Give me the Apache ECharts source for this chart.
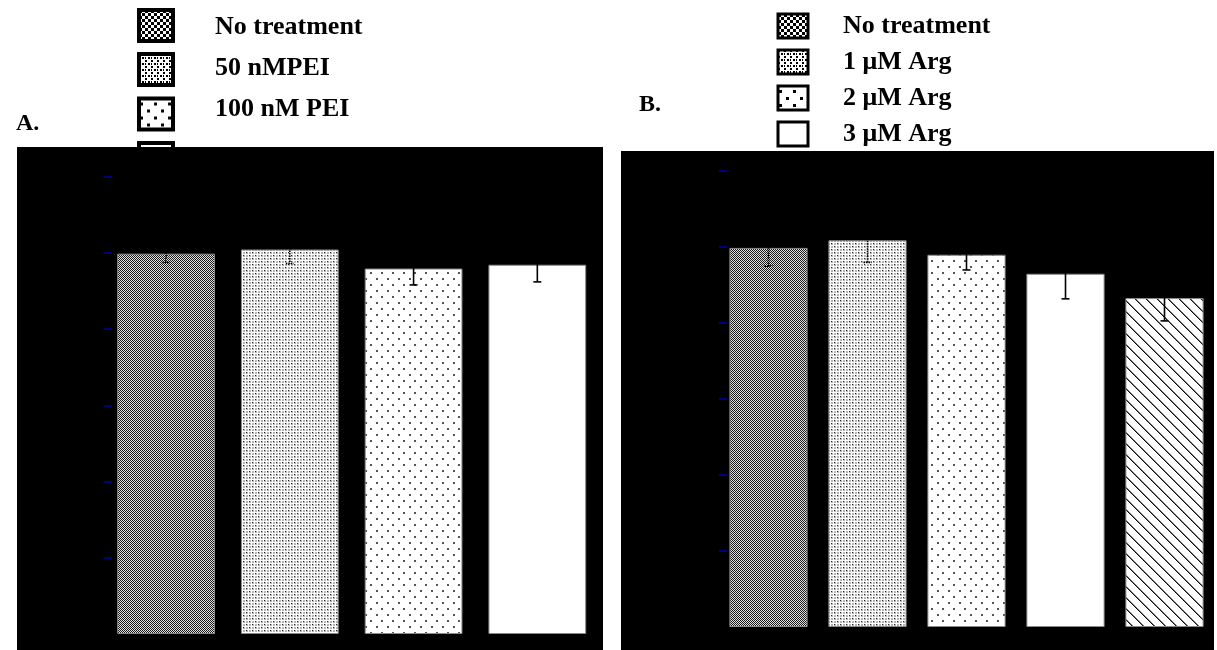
<!DOCTYPE html>
<html>
<head>
<meta charset="utf-8">
<script src="https://cdn.jsdelivr.net/npm/echarts@6/dist/echarts.min.js"></script>
<style>
  html, body { margin: 0; padding: 0; background: #fff; }
  #chart { width: 1217px; height: 650px; }
</style>
</head>
<body>
<div id="chart"></div>
<script>
// Panel A: PEI treatment
const groupsA = ['No treatment', '50 nMPEI', '100 nM PEI', '150 nM PEI'];
const meansA = [99.8, 100.9, 95.9, 96.9];
const errsA = [2.3, 3.7, 4.3, 4.5];

// Panel B: arginine treatment
const groupsB = ['No treatment', '1 μM Arg', '2 μM Arg', '3 μM Arg', '4 μM Arg'];
const meansB = [99.7, 101.7, 97.9, 92.9, 86.5];
const errsB = [4.8, 5.8, 4.0, 6.6, 6.0];

// y axis tick values (both panels)
const yTicks = [20, 40, 60, 80, 100, 120];

// ---- fill patterns --------------------------------------------------------
function tile(w, h, paint) {
  const c = document.createElement('canvas');
  c.width = w; c.height = h;
  const g = c.getContext('2d');
  g.fillStyle = '#fff';
  g.fillRect(0, 0, w, h);
  paint(g);
  return { image: c, repeat: 'repeat' };
}
function px(g, color, x, y, w, h) { g.fillStyle = color; g.fillRect(x, y, w || 1, h || 1); }

// bar fills (fine, 1px dither)
const barFill = {
  checker: tile(2, 2, g => { px(g, '#1a1a1a', 0, 0); px(g, '#1a1a1a', 1, 1); px(g, '#e0e0e0', 1, 0); px(g, '#e0e0e0', 0, 1); }),
  dense: tile(6, 6, g => {
    [[0, 0], [3, 0], [0, 3], [3, 3]].forEach(([x, y]) => px(g, '#b4b4b4', x, y, 2, 2));
    px(g, '#222', 0, 0); px(g, '#222', 3, 3);
  }),
  sparse: tile(11, 12, g => { px(g, '#555', 2, 2, 2, 2); px(g, '#555', 7, 8, 2, 2); }),
  plain: '#ffffff',
  hatch: tile(11, 11, g => {
    for (let i = 0; i < 11; i++) { px(g, '#111', i, i); px(g, '#777', (i + 1) % 11, i); }
  })
};

// legend swatch fills (coarse)
const keyFill = {
  checker: tile(6, 6, g => { px(g, '#000', 0, 0, 3, 3); px(g, '#000', 3, 3, 3, 3); }),
  dense: tile(6, 6, g => { px(g, '#000', 0, 0, 2, 2); px(g, '#000', 3, 3, 2, 2); px(g, '#000', 0, 3, 1, 2); }),
  sparse: tile(14, 14, g => { px(g, '#000', 1, 4, 3, 3); px(g, '#000', 8, 11, 3, 3); }),
  plain: '#ffffff',
  hatch: tile(8, 8, g => { for (let i = 0; i < 8; i++) px(g, '#000', i, i, 2, 1); })
};

const fillsA = ['checker', 'dense', 'sparse', 'plain'];
const fillsB = ['checker', 'dense', 'sparse', 'plain', 'hatch'];

const serifBold = { fontFamily: 'Liberation Serif', fontWeight: 'bold', color: '#000' };

// ---- series ---------------------------------------------------------------
function barSeries(groups, means, fills, idx, stack) {
  return groups.map((name, i) => ({
    type: 'bar',
    name: name,
    xAxisIndex: idx,
    yAxisIndex: idx,
    stack: stack,
    barWidth: '79%',
    z: 2,
    itemStyle: { color: barFill[fills[i]], borderColor: '#8a8a8a', borderWidth: 1 },
    data: groups.map((g, j) => (j === i ? means[i] : '-'))
  }));
}

function errorSeries(means, errs, idx) {
  return {
    type: 'custom',
    name: 'sem' + idx,
    xAxisIndex: idx,
    yAxisIndex: idx,
    z: 3,
    silent: true,
    data: means.map((m, i) => [i, m, errs[i]]),
    renderItem: function (params, api) {
      const i = api.value(0), m = api.value(1), e = api.value(2);
      const top = api.coord([i, m + e]);
      const bot = api.coord([i, m - e]);
      const cap = 4;
      const style = { stroke: '#000', lineWidth: 1.6, lineDash: i < 2 ? [1.5, 1] : null };
      return {
        type: 'group',
        children: [
          { type: 'line', shape: { x1: top[0], y1: top[1], x2: bot[0], y2: bot[1] }, style: style },
          { type: 'line', shape: { x1: top[0] - cap, y1: top[1], x2: top[0] + cap, y2: top[1] }, style: style },
          { type: 'line', shape: { x1: bot[0] - cap, y1: bot[1], x2: bot[0] + cap, y2: bot[1] }, style: style }
        ]
      };
    }
  };
}

function yAxis(idx) {
  return {
    type: 'value', gridIndex: idx, min: 0, max: 120, interval: 20, z: 5,
    axisLine: { show: false },
    splitLine: { show: false },
    axisLabel: { show: false },
    axisTick: {
      show: true, inside: true, length: 8, customValues: yTicks,
      lineStyle: { color: '#0000a8', width: 1.5 }
    }
  };
}
function xAxis(idx, groups) {
  return {
    type: 'category', gridIndex: idx, data: groups,
    axisLine: { show: false }, axisTick: { show: false }, axisLabel: { show: false }
  };
}

// nudge[i] = [padTop, padBottom]: fine vertical placement of each key label
function legend(groups, fills, left, top, w, h, border, gap, textPad, lineH, nudge) {
  const rich = {};
  groups.forEach((g, i) => {
    rich['t' + i] = Object.assign({
      fontSize: 26, lineHeight: lineH,
      padding: [nudge[i][0], 0, nudge[i][1], textPad]
    }, serifBold);
  });
  return {
    orient: 'vertical', left: left, top: top, padding: 0, z: 0,
    itemWidth: w, itemHeight: h, itemGap: gap, selectedMode: false,
    icon: 'rect',
    formatter: name => '{t' + groups.indexOf(name) + '|' + name + '}',
    textStyle: Object.assign({ fontSize: 26, lineHeight: lineH, rich: rich }, serifBold),
    data: groups.map((name, i) => ({
      name: name,
      icon: 'rect',
      itemStyle: { color: keyFill[fills[i]], borderColor: '#000', borderWidth: border }
    }))
  };
}

const chart = echarts.init(document.getElementById('chart'), null, { renderer: 'canvas' });
chart.setOption({
  animation: false,
  backgroundColor: '#fff',
  legend: [
    legend(groupsA, fillsA, 137, 8, 34, 31, 4, 9, 37, 18, [[4, 0], [0, 2], [0, 10], [0, 0]]),
    legend(groupsB, fillsB, 776.5, 12.5, 30, 24, 3, 9, 30, 26, [[0, 0], [0, 0], [0, 0], [0, 0], [0, 0]])
  ],
  graphic: [
    { type: 'rect', z: 1, shape: { x: 17, y: 147, width: 586, height: 520 }, style: { fill: '#000' } },
    { type: 'rect', z: 1, shape: { x: 621, y: 151, width: 593, height: 520 }, style: { fill: '#000' } },
    { type: 'text', z: 1, left: 16, top: 112, style: Object.assign({ text: 'A.', fontSize: 24, fill: '#000' }, { fontFamily: 'Liberation Serif', fontWeight: 'bold' }) },
    { type: 'text', z: 1, left: 639, top: 93, style: Object.assign({ text: 'B.', fontSize: 24, fill: '#000' }, { fontFamily: 'Liberation Serif', fontWeight: 'bold' }) }
  ],
  grid: [
    { left: 104.2, top: 176.7, width: 495, height: 457.3, show: false },
    { left: 719, top: 170.7, width: 495, height: 456.3, show: false }
  ],
  xAxis: [xAxis(0, groupsA), xAxis(1, groupsB)],
  yAxis: [yAxis(0), yAxis(1)],
  series: [].concat(
    barSeries(groupsA, meansA, fillsA, 0, 'A'),
    [errorSeries(meansA, errsA, 0)],
    barSeries(groupsB, meansB, fillsB, 1, 'B'),
    [errorSeries(meansB, errsB, 1)]
  )
});
</script>
</body>
</html>
